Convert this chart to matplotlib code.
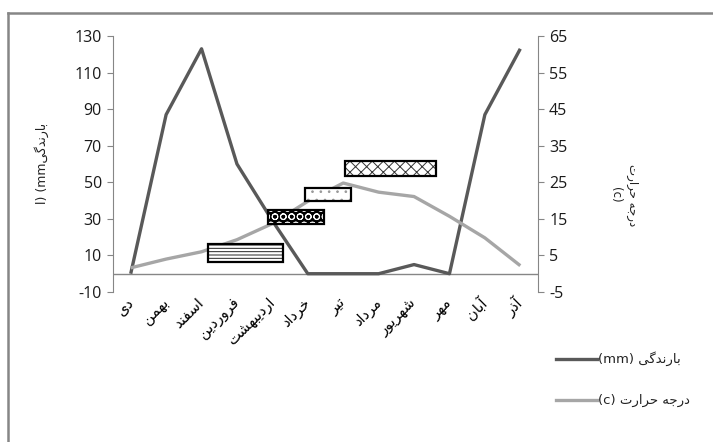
import matplotlib
matplotlib.use("Agg")
import matplotlib.pyplot as plt
from matplotlib.patches import Rectangle
from matplotlib.lines import Line2D

# ---------------- data ----------------
months = ["دی", "بهمن", "اسفند", "فروردین", "اردیبهشت", "خرداد",
          "تیر", "مرداد", "شهریور", "مهر", "آبان", "آذر"]
rain_mm = [0, 87, 123, 60, 29, 0, 0, 0, 5, 0, 87, 123]
temp_c = [1.6, 4.0, 6.0, 9.3, 13.7, 19.8, 24.8, 22.3, 21.1, 15.7, 9.8, 2.2]

left_ticks = [-10, 10, 30, 50, 70, 90, 110, 130]
right_ticks = [-5, 5, 15, 25, 35, 45, 55, 65]

# patterned boxes: (x start, x end) in category index, (low, high) in temperature units
box_x0 = [2.17, 3.89, 4.92, 6.05]
box_x1 = [4.31, 5.47, 6.22, 8.62]
box_y0 = [3.2, 13.5, 19.9, 26.7]
box_y1 = [8.1, 17.4, 23.5, 30.8]

rain_label = "بارندگی"
temp_label = "درجه حرارت"

# ---------------- minimal Persian shaping (visual order) ----------------
FORMS = {
    "ا": ("\uFE8D", "\uFE8E", None, None),
    "آ": ("\uFE81", "\uFE82", None, None),
    "ب": ("\uFE8F", "\uFE90", "\uFE91", "\uFE92"),
    "ت": ("\uFE95", "\uFE96", "\uFE97", "\uFE98"),
    "ج": ("\uFE9D", "\uFE9E", "\uFE9F", "\uFEA0"),
    "ح": ("\uFEA1", "\uFEA2", "\uFEA3", "\uFEA4"),
    "خ": ("\uFEA5", "\uFEA6", "\uFEA7", "\uFEA8"),
    "د": ("\uFEA9", "\uFEAA", None, None),
    "ذ": ("\uFEAB", "\uFEAC", None, None),
    "ر": ("\uFEAD", "\uFEAE", None, None),
    "ز": ("\uFEAF", "\uFEB0", None, None),
    "س": ("\uFEB1", "\uFEB2", "\uFEB3", "\uFEB4"),
    "ش": ("\uFEB5", "\uFEB6", "\uFEB7", "\uFEB8"),
    "ف": ("\uFED1", "\uFED2", "\uFED3", "\uFED4"),
    "م": ("\uFEE1", "\uFEE2", "\uFEE3", "\uFEE4"),
    "ن": ("\uFEE5", "\uFEE6", "\uFEE7", "\uFEE8"),
    "ه": ("\uFEE9", "\uFEEA", "\uFEEB", "\uFEEC"),
    "و": ("\uFEED", "\uFEEE", None, None),
    "ی": ("\uFBFC", "\uFBFD", "\uFBFE", "\uFBFF"),
    "گ": ("\uFB92", "\uFB93", "\uFB94", "\uFB95"),
}


def dual(ch):
    return ch in FORMS and FORMS[ch][2] is not None


def rtl(text):
    out = []
    for i, ch in enumerate(text):
        if ch not in FORMS:
            out.append(ch)
            continue
        prev = text[i - 1] if i > 0 else ""
        nxt = text[i + 1] if i + 1 < len(text) else ""
        jp = dual(prev)
        jn = dual(ch) and nxt in FORMS
        iso, fin, ini, med = FORMS[ch]
        if jp and jn:
            g = med
        elif jp:
            g = fin
        elif jn:
            g = ini
        else:
            g = iso
        out.append(g)
    return "".join(out[::-1])


# ---------------- figure ----------------
plt.rcParams["hatch.linewidth"] = 0.7
W, H = 713, 442
fig = plt.figure(figsize=(W / 100, H / 100), dpi=100)
fig.patch.set_facecolor("white")

ax = fig.add_axes([113 / W, 1 - 292 / H, (538 - 113) / W, (292 - 36) / H])
ax2 = ax.twinx()

axis_gray = "#868686"
num_font = "Open Sans"
num_col = "#1a1a1a"

# rainfall on the left axis
x = list(range(len(months)))
ax.plot(x, rain_mm, color="#595959", lw=2.4, solid_joinstyle="round",
        solid_capstyle="butt", zorder=3)
ax.set_xlim(-0.5, len(months) - 0.5)
ax.set_ylim(-10, 130)
ax.set_yticks(left_ticks)
ax.set_yticklabels([str(t) for t in left_ticks], fontsize=11.5, family=num_font,
                   color=num_col)
ax.axhline(0, color=axis_gray, lw=1.0, zorder=2)

# temperature + patterned boxes on the right axis
ax2.plot(x, temp_c, color="#A6A6A6", lw=2.4, solid_joinstyle="round",
         solid_capstyle="butt", zorder=3)
ax2.set_ylim(-5, 65)
ax2.set_yticks(right_ticks)
ax2.set_yticklabels([str(t) for t in right_ticks], fontsize=11.5, family=num_font,
                    color=num_col)

hatches = ["-----", None, "..", "xxx"]
hatch_cols = ["#222222", None, "#999999", "#333333"]
for i in range(len(box_x0)):
    w = box_x1[i] - box_x0[i]
    h = box_y1[i] - box_y0[i]
    if i == 1:
        ax2.add_patch(Rectangle((box_x0[i], box_y0[i]), w, h, facecolor="black",
                                edgecolor="white", hatch="OO", lw=0, zorder=4))
    else:
        ax2.add_patch(Rectangle((box_x0[i], box_y0[i]), w, h, facecolor="white",
                                edgecolor=hatch_cols[i], hatch=hatches[i], lw=0, zorder=4))
    ax2.add_patch(Rectangle((box_x0[i], box_y0[i]), w, h, facecolor="none",
                            edgecolor="black", lw=1.6, zorder=5))

for a in (ax, ax2):
    for s in ("top", "bottom"):
        a.spines[s].set_visible(False)
    a.tick_params(axis="y", direction="out", length=4, width=0.8, color=axis_gray, pad=4)
ax.spines["left"].set_color(axis_gray)
ax.spines["right"].set_visible(False)
ax2.spines["left"].set_visible(False)
ax2.spines["right"].set_color(axis_gray)

ax.set_xticks(x)
ax.set_xticklabels([rtl(m) for m in months], rotation=45, ha="right", va="center",
                   rotation_mode="anchor", fontsize=10.5, family="DejaVu Sans",
                   color="black")
ax.tick_params(axis="x", length=0, pad=6)

# axis titles
fig.text(42 / W, 1 - 163 / H, "l) (mm" + rtl(rain_label), rotation=90,
         ha="center", va="center", fontsize=9, family="DejaVu Sans", color="#222222")
fig.text(624 / W, 1 - 195 / H, rtl(temp_label) + "\n(c)", rotation=-90,
         ha="center", va="center", fontsize=8.5, family="DejaVu Sans", color="#222222",
         multialignment="center", linespacing=1.3)

# legend
leg_y = [359, 400]
leg_col = ["#595959", "#A6A6A6"]
leg_txt = ["(mm) " + rtl(rain_label), "(c) " + rtl(temp_label)]
for yy, cc, tt in zip(leg_y, leg_col, leg_txt):
    fig.add_artist(Line2D([556 / W, 597 / W], [1 - yy / H, 1 - yy / H],
                          color=cc, lw=2.4, transform=fig.transFigure))
    fig.text(598 / W, 1 - yy / H, tt, ha="left", va="center", fontsize=9.5,
             family="DejaVu Sans", color="#222222")

# outer chart-area frame (extends beyond right and bottom edges)
fig.add_artist(Line2D([8 / W, 8 / W], [-0.1, 1 - 13 / H], color=axis_gray, lw=1.8,
                      transform=fig.transFigure))
fig.add_artist(Line2D([8 / W, 1.1], [1 - 13 / H, 1 - 13 / H], color=axis_gray, lw=1.8,
                      transform=fig.transFigure))

fig.savefig("out.png", dpi=100, facecolor="white")
